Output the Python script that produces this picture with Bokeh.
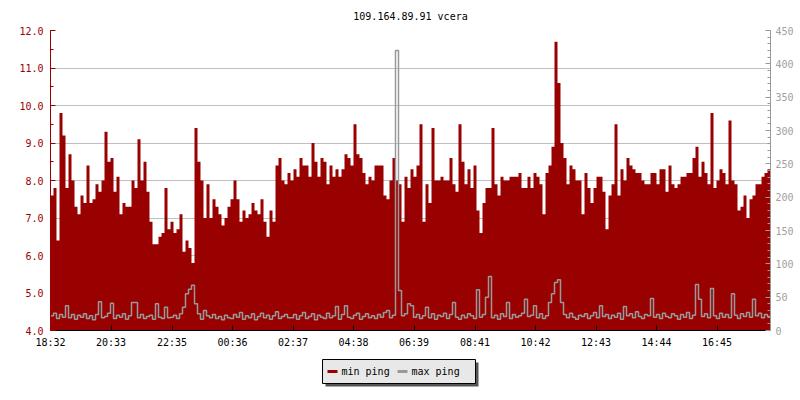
from bokeh.plotting import figure
from bokeh.layouts import column
from bokeh.models import (Range1d, LinearAxis, SingleIntervalTicker, FixedTicker,
                          NumeralTickFormatter)
from bokeh.core.properties import value
from bokeh.embed import file_html
from bokeh.resources import INLINE

title_text = "109.164.89.91 vcera"
start_time = "18:32"
sample_minutes = 6
tick_labels = ["18:32", "20:33", "22:35", "00:36", "02:37", "04:38",
               "06:39", "08:41", "10:42", "12:43", "14:44", "16:45"]
series_names = ["min ping", "max ping"]

min_ping = [
    7.6, 7.8, 6.4, 9.8, 9.2, 7.8, 8.7, 8.0, 7.3, 7.1,
    7.6, 7.4, 8.4, 7.4, 7.5, 7.9, 7.7, 8.0, 9.3, 8.5,
    8.6, 7.7, 8.1, 7.1, 7.4, 7.3, 7.3, 8.0, 7.8, 9.1,
    8.0, 8.5, 7.7, 6.9, 6.3, 6.3, 6.5, 6.6, 7.8, 6.7,
    6.9, 6.6, 6.7, 7.1, 6.1, 6.4, 6.2, 5.8, 9.4, 8.5,
    8.0, 7.0, 7.9, 7.0, 7.5, 7.3, 7.1, 6.8, 7.0, 7.3,
    7.5, 8.0, 7.5, 6.9, 7.2, 7.0, 7.1, 7.4, 7.2, 7.1,
    7.5, 6.9, 6.5, 7.2, 6.9, 8.4, 8.6, 8.0, 7.9, 8.2,
    8.0, 8.3, 8.1, 8.6, 8.4, 8.4, 8.1, 9.0, 8.5, 8.1,
    8.6, 8.5, 7.9, 8.4, 8.1, 8.3, 8.1, 8.3, 8.7, 8.6,
    8.4, 9.5, 8.7, 8.6, 8.2, 7.9, 8.1, 8.0, 8.4, 8.4,
    8.4, 7.6, 7.5, 8.0, 8.6, 8.0, 7.9, 6.9, 8.1, 7.8,
    8.3, 8.1, 8.4, 9.5, 6.9, 7.9, 7.4, 9.4, 8.0, 8.0,
    8.1, 8.0, 8.0, 8.6, 7.9, 7.7, 9.5, 8.5, 7.9, 8.3,
    7.8, 8.4, 7.2, 6.6, 7.4, 7.8, 7.8, 9.4, 7.9, 7.6,
    8.1, 8.0, 8.0, 8.1, 8.1, 8.1, 8.2, 7.8, 7.8, 8.1,
    7.8, 8.2, 8.1, 7.9, 7.1, 8.2, 8.4, 8.9, 11.7, 10.6,
    9.0, 8.6, 7.9, 8.4, 8.3, 8.0, 8.0, 7.1, 8.2, 7.8,
    7.4, 7.8, 8.1, 8.1, 7.7, 6.7, 7.6, 7.9, 9.5, 7.6,
    8.3, 8.0, 8.6, 8.4, 8.3, 8.2, 8.2, 8.0, 7.9, 7.9,
    8.2, 8.2, 7.9, 8.3, 8.3, 7.7, 8.4, 7.9, 7.8, 7.9,
    8.1, 8.1, 8.2, 8.2, 8.6, 8.9, 8.1, 8.5, 8.2, 7.9,
    9.8, 7.8, 8.0, 8.3, 8.2, 7.9, 9.6, 8.0, 7.9, 7.2,
    7.3, 7.6, 7.0, 7.5, 7.6, 7.9, 7.9, 8.1, 8.2, 8.3,
]

max_ping = [
    22, 26, 18, 24, 20, 37, 19, 24, 17, 23,
    20, 25, 18, 22, 16, 24, 43, 19, 21, 26,
    41, 18, 23, 20, 25, 17, 22, 42, 42, 19,
    24, 18, 21, 23, 17, 40, 20, 18, 35, 19,
    20, 23, 18, 25, 35, 55, 62, 68, 40, 25,
    17, 30, 22, 19, 24, 18, 21, 16, 23, 19,
    18, 24, 20, 27, 17, 22, 19, 25, 16, 21,
    26, 19, 23, 17, 22, 28, 18, 21, 24, 19,
    19, 24, 17, 22, 27, 18, 21, 25, 16, 23,
    20, 18, 26, 19, 22, 36, 17, 24, 37, 20,
    18, 23, 26, 17, 21, 25, 19, 22, 18, 24,
    20, 27, 30, 19, 23, 420, 60, 22, 25, 40,
    37, 20, 24, 18, 22, 35, 19, 25, 17, 23,
    21, 26, 18, 24, 42, 20, 17, 23, 19, 25,
    22, 18, 61, 20, 24, 50, 81, 19, 23, 17,
    25, 21, 42, 18, 24, 20, 22, 26, 47, 21,
    23, 37, 19, 25, 18, 22, 42, 55, 72, 76,
    42, 24, 19, 26, 20, 17, 23, 21, 25, 18,
    22, 27, 19, 37, 21, 24, 18, 23, 20, 26,
    17, 36, 22, 25, 19, 28, 21, 18, 24, 22,
    48, 20, 24, 18, 26, 21, 19, 25, 22, 17,
    24, 20, 27, 18, 23, 69, 47, 21, 25, 19,
    63, 22, 18, 26, 20, 24, 19, 55, 23, 18,
    25, 21, 27, 20, 47, 22, 26, 19, 24, 21,
]

RED = "#990000"
GRAY = "#999999"
FONT = "DejaVu Sans Mono"
Y_MIN, Y_MAX = 4.0, 12.0
R_MIN, R_MAX = 0, 450


def to_minutes(label):
    h, m = (int(v) for v in label.split(":"))
    sh, sm = (int(v) for v in start_time.split(":"))
    return ((h * 60 + m) - (sh * 60 + sm)) % 1440


n = len(min_ping)
span = n * sample_minutes
x_edges = [i * sample_minutes for i in range(n + 1)]
min_y = min_ping + [min_ping[-1]]
max_y = max_ping + [max_ping[-1]]
tick_pos = [to_minutes(t) for t in tick_labels]

p = figure(width=800, height=350, output_backend="svg", toolbar_location=None,
           x_range=Range1d(0, span), y_range=Range1d(Y_MIN, Y_MAX),
           min_border_left=50, min_border_right=30, min_border_top=30,
           min_border_bottom=20, title=title_text)
p.extra_y_ranges = {"right": Range1d(R_MIN, R_MAX)}

p.title.align = "center"
p.title.text_font = FONT
p.title.text_font_size = "10px"
p.title.text_font_style = "normal"
p.title.text_color = "black"
p.title.standoff = 17
p.outline_line_color = None
p.background_fill_color = "white"
p.border_fill_color = "white"

p.varea_step(x=x_edges, y1=[Y_MIN] * (n + 1), y2=min_y, step_mode="after",
             fill_color=RED)
p.step(x=x_edges, y=max_y, mode="after", y_range_name="right",
       line_color=GRAY, line_width=1.5)

# x axis
xa = p.xaxis[0]
xa.ticker = FixedTicker(ticks=tick_pos)
xa.major_label_overrides = {tp: lab for tp, lab in zip(tick_pos, tick_labels)}
xa.major_tick_in = 5
xa.major_tick_out = 0
xa.minor_tick_line_color = None
xa.axis_line_color = "black"
xa.major_tick_line_color = "black"
xa.major_label_text_font = FONT
xa.major_label_text_font_size = "10px"
xa.major_label_text_color = "black"
xa.major_label_standoff = 6

# left axis
ya = p.yaxis[0]
ya.ticker = SingleIntervalTicker(interval=1, num_minor_ticks=2)
ya.formatter = NumeralTickFormatter(format="0.0")
ya.axis_line_color = RED
ya.major_tick_line_color = RED
ya.minor_tick_line_color = RED
ya.major_tick_in = 5
ya.major_tick_out = 0
ya.minor_tick_in = 3
ya.minor_tick_out = 0
ya.major_label_text_font = FONT
ya.major_label_text_font_size = "10px"
ya.major_label_text_color = RED
ya.major_label_standoff = 7

# right axis
ra = LinearAxis(y_range_name="right",
                ticker=SingleIntervalTicker(interval=50, num_minor_ticks=5))
ra.axis_line_color = GRAY
ra.major_tick_line_color = GRAY
ra.minor_tick_line_color = GRAY
ra.major_tick_in = 5
ra.major_tick_out = 0
ra.minor_tick_in = 3
ra.minor_tick_out = 0
ra.major_label_text_font = FONT
ra.major_label_text_font_size = "10px"
ra.major_label_text_color = "#a0a0a0"
ra.major_label_standoff = 5
p.add_layout(ra, "right")

p.xgrid.visible = False
p.ygrid.grid_line_color = "#c0c0c0"
p.ygrid.grid_line_width = 1

# legend strip (its frame is aligned with the main frame: 50..770 px)
lg = figure(width=800, height=50, output_backend="svg", toolbar_location=None,
            x_range=Range1d(50, 770), y_range=Range1d(50, 0),
            min_border=0, outline_line_color=None)
lg.axis.visible = False
lg.grid.visible = False
lg.background_fill_color = "white"
lg.border_fill_color = "white"

box_l, box_r, box_t, box_b = 322, 475, 9, 33
sh = 3
lg.quad(left=[box_l + sh], right=[box_r + sh], top=[box_t + sh], bottom=[box_b + sh],
        fill_color="#555555", line_color=None)
lg.quad(left=[box_l], right=[box_r], top=[box_t], bottom=[box_b],
        fill_color="#e8e8e8", line_color="black", line_width=1)
mid = (box_t + box_b) / 2
item_x = [327, 397]
item_colors = [RED, GRAY]
for ix, col, name in zip(item_x, item_colors, series_names):
    lg.line(x=[ix, ix + 10], y=[mid, mid], line_color=col, line_width=3)
    lg.text(x=[ix + 14], y=[mid], text=[name], text_font=value(FONT),
            text_font_size="10px", text_baseline="middle", text_align="left",
            text_color="black")

layout = column(p, lg, spacing=0)
open("out.html", "w").write(file_html(layout, INLINE))
